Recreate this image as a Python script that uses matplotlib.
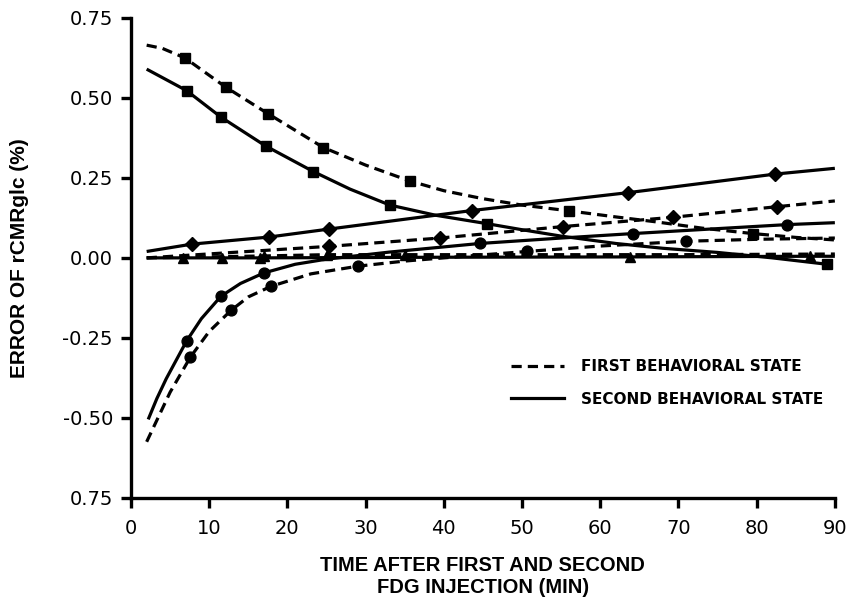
import matplotlib
matplotlib.use("Agg")
import matplotlib.pyplot as plt
from matplotlib.lines import Line2D

plt.rcParams['font.family'] = ['Liberation Sans', 'DejaVu Sans']

# ---- data (time in min, error of rCMRglc in %) ----
# squares, first behavioral state (dashed)
sq1_x = [2, 4, 6.9, 12.1, 17.5, 24.6, 30, 35.7, 40, 45, 50, 56, 62, 67, 73, 79.5, 85, 90]
sq1_y = [0.665, 0.655, 0.625, 0.534, 0.451, 0.345, 0.29, 0.24, 0.21, 0.185, 0.165, 0.147, 0.128, 0.113, 0.093, 0.076, 0.064, 0.056]
sq1_mk = [2, 3, 4, 5, 7, 11, 15]
# squares, second behavioral state (solid)
sq2_x = [2, 7.1, 11.5, 17.2, 23.3, 28, 33.1, 39, 45.5, 50, 55, 62, 68, 75, 82, 89]
sq2_y = [0.59, 0.523, 0.44, 0.35, 0.27, 0.215, 0.165, 0.133, 0.107, 0.088, 0.068, 0.045, 0.03, 0.017, 0.0, -0.02]
sq2_mk = [1, 2, 3, 4, 6, 8, 15]
# diamonds, second state (solid)
di2_x = [2, 7.8, 17.6, 25.3, 43.6, 63.6, 82.4, 90]
di2_y = [0.02, 0.043, 0.065, 0.09, 0.148, 0.204, 0.262, 0.28]
di2_mk = [1, 2, 3, 4, 5, 6]
# diamonds, first state (dashed)
di1_x = [2, 25.3, 39.5, 55.3, 69.3, 82.6, 90]
di1_y = [0.0, 0.036, 0.062, 0.098, 0.127, 0.16, 0.178]
di1_mk = [1, 2, 3, 4, 5]
# triangles, second state (solid)
tr2_x = [2, 6.7, 11.6, 16.5, 40, 63.8, 86.8, 90]
tr2_y = [0.0, 0.0, 0.0, 0.0, 0.002, 0.003, 0.005, 0.005]
tr2_mk = [1, 2, 3, 5, 6]
# triangles, first state (dashed)
tr1_x = [2, 17, 25, 35, 50, 70, 90]
tr1_y = [0.0, 0.006, 0.01, 0.01, 0.01, 0.01, 0.012]
tr1_mk = [1, 2, 3]
# circles, second state (solid)
ci2_x = [2.2, 3.3, 4.5, 7.1, 9, 11.5, 14, 17, 21, 25, 33, 44.6, 55, 64.2, 74, 83.9, 90]
ci2_y = [-0.505, -0.44, -0.378, -0.26, -0.19, -0.12, -0.08, -0.047, -0.02, -0.004, 0.018, 0.045, 0.062, 0.076, 0.09, 0.104, 0.11]
ci2_mk = [3, 5, 7, 11, 13, 15]
# circles, first state (dashed)
ci1_x = [2, 5, 7.6, 10, 12.8, 15, 17.9, 23, 29, 35, 40, 50.6, 60, 71, 80, 90]
ci1_y = [-0.575, -0.42, -0.31, -0.23, -0.164, -0.122, -0.089, -0.05, -0.026, -0.01, 0.0, 0.02, 0.037, 0.052, 0.058, 0.062]
ci1_mk = [2, 4, 6, 8, 11, 13]

yticks = [-0.75, -0.50, -0.25, 0.0, 0.25, 0.50, 0.75]
ytick_labels = ['0.75', '-0.50', '-0.25', '0.00', '0.25', '0.50', '0.75']
xticks = [0, 10, 20, 30, 40, 50, 60, 70, 80, 90]

fig = plt.figure(figsize=(8.48, 5.99), dpi=100)
ax = fig.add_axes([0.1545, 0.169, 0.830, 0.801])

lw = 2.3
dash = (3.2, 1.9)
series = [
    (sq1_x, sq1_y, sq1_mk, 's', True),
    (sq2_x, sq2_y, sq2_mk, 's', False),
    (di2_x, di2_y, di2_mk, 'D', False),
    (di1_x, di1_y, di1_mk, 'D', True),
    (tr2_x, tr2_y, tr2_mk, '^', False),
    (tr1_x, tr1_y, tr1_mk, '^', True),
    (ci2_x, ci2_y, ci2_mk, 'o', False),
    (ci1_x, ci1_y, ci1_mk, 'o', True),
]
for xs, ys, mk, m, dashed in series:
    ms = 7.8 if m != 'D' else 6.8
    ln, = ax.plot(xs, ys, color='black', lw=lw, marker=m, markersize=ms,
                  markevery=mk, markerfacecolor='black', markeredgecolor='black',
                  solid_capstyle='butt', dash_capstyle='butt',
                  solid_joinstyle='round', dash_joinstyle='round')
    if dashed:
        ln.set_dashes(dash)

ax.set_xlim(0, 90)
ax.set_ylim(-0.75, 0.75)
ax.set_xticks(xticks)
ax.set_xticklabels([str(t) for t in xticks])
ax.set_yticks(yticks)
ax.set_yticklabels(ytick_labels)
for s in ['top', 'right']:
    ax.spines[s].set_visible(False)
for s in ['left', 'bottom']:
    ax.spines[s].set_linewidth(2.4)
ax.tick_params(axis='both', direction='out', width=2.4, length=7,
               labelsize=14, pad=6)
ax.tick_params(axis='x', pad=8)
for lab in ax.get_xticklabels() + ax.get_yticklabels():
    lab.set_fontfamily('DejaVu Sans')

ax.set_ylabel('ERROR OF rCMRglc (%)', fontsize=15, fontweight='bold')
ax.yaxis.set_label_coords(-0.145, 0.5)
ax.set_xlabel('TIME AFTER FIRST AND SECOND\nFDG INJECTION (MIN)', fontsize=14.5,
              fontweight='bold', linespacing=1.2)
ax.xaxis.set_label_coords(0.5, -0.122)

handles = [Line2D([], [], color='black', lw=lw, dashes=dash),
           Line2D([], [], color='black', lw=lw)]
leg = ax.legend(handles, ['FIRST BEHAVIORAL STATE', 'SECOND BEHAVIORAL STATE'],
                loc='upper left', bbox_to_anchor=(0.52, 0.318), frameon=False,
                prop={'size': 11, 'weight': 'bold', 'family': 'DejaVu Sans'},
                handlelength=3.5, handletextpad=1.1, labelspacing=1.15)

fig.savefig('out.png', dpi=100)
